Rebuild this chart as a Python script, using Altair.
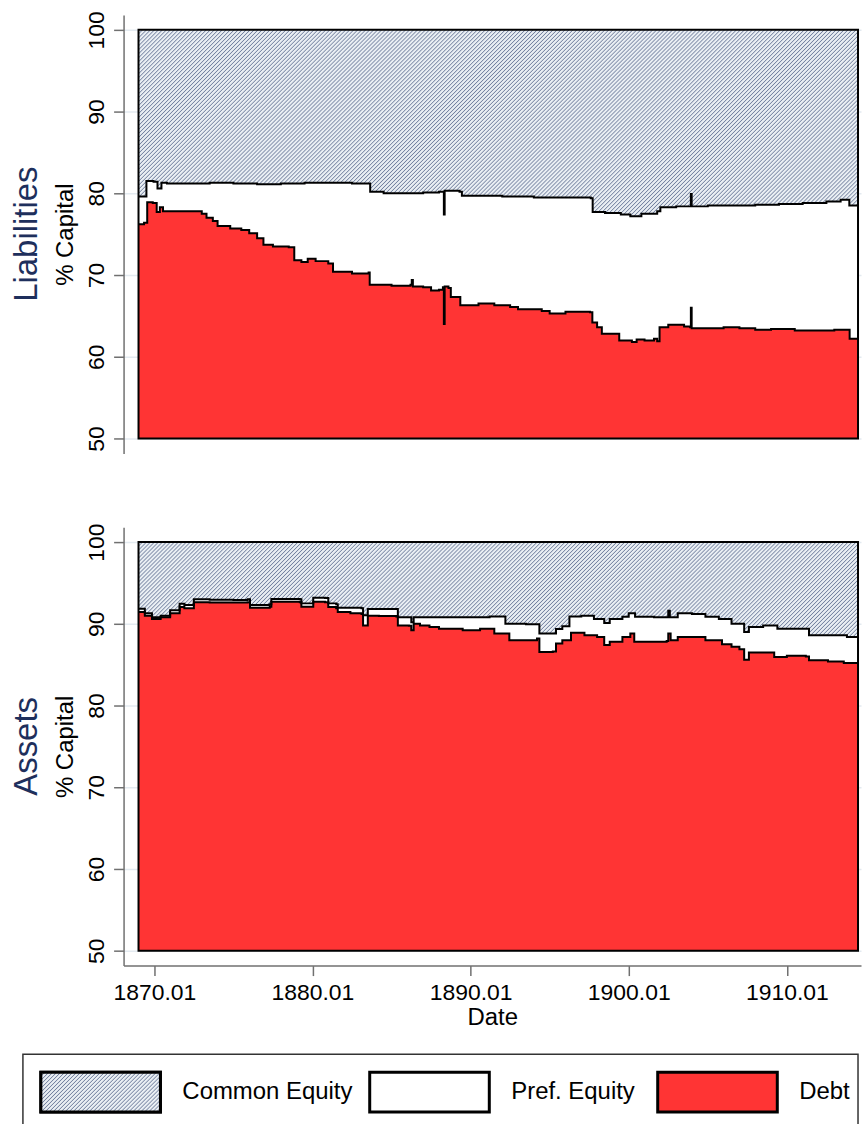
import altair as alt
import pandas as pd

FONT = "Liberation Sans"
RED = "#ff3434"
HATCH_BG = "#e9eef3"
HATCH_FG = "#7482a0"
NAVY = "#1e2f5c"
AXIS_GREY = "#707070"
GRID = "#e3eaf0"

# ---------------- data ----------------
# Liabilities: top of the Debt band
liab_debt_date = [1869.00, 1869.35, 1869.55, 1869.90, 1870.15, 1870.35, 1870.55, 1871.50, 1872.50,
                  1873.00, 1873.30, 1873.70, 1874.00, 1874.80, 1875.50, 1876.00, 1876.50, 1876.90,
                  1877.50, 1878.50, 1878.85, 1879.30, 1879.70, 1880.20, 1881.00, 1881.30, 1882.50,
                  1883.55, 1883.62, 1885.00, 1886.20, 1886.28, 1886.35, 1887.00, 1887.50, 1888.00,
                  1888.25, 1888.31, 1888.36, 1888.60, 1888.75, 1889.20, 1889.35, 1890.50, 1891.50,
                  1892.50, 1893.00, 1894.50, 1895.00, 1896.00, 1897.55, 1897.70, 1898.00, 1898.30,
                  1899.40, 1900.20, 1900.50, 1901.00, 1901.60, 1901.80, 1901.95, 1902.50, 1903.50,
                  1903.88, 1903.93, 1903.98, 1905.00, 1906.00, 1907.00, 1908.00, 1909.00, 1910.50,
                  1912.00, 1913.00, 1913.90, 1913.97, 1914.50]
liab_debt = [76.2, 76.4, 78.9, 78.8, 77.7, 78.3, 77.8, 77.8, 77.8,
             77.5, 77.0, 76.6, 76.0, 75.7, 75.5, 75.1, 74.5, 73.7,
             73.5, 73.4, 71.8, 71.6, 72.0, 71.7, 71.4, 70.4, 70.2,
             70.3, 68.8, 68.7, 68.8, 69.4, 68.6, 68.5, 68.1, 68.2,
             68.5, 64.0, 68.6, 68.4, 67.3, 67.3, 66.3, 66.5, 66.3,
             66.1, 65.8, 65.6, 65.3, 65.5, 65.45, 64.2, 63.6, 62.8,
             62.0, 61.8, 62.1, 62.0, 62.2, 61.9, 63.6, 63.9, 63.7,
             63.6, 66.0, 63.5, 63.5, 63.6, 63.5, 63.3, 63.4, 63.2,
             63.2, 63.3, 63.3, 62.2, 62.2]

# Liabilities: top of the Pref. Equity band (Debt + Pref. Equity)
liab_pref_date = [1869.00, 1869.40, 1869.50, 1869.95, 1870.20, 1870.45, 1870.80, 1872.00, 1873.50,
                  1875.00, 1876.50, 1878.00, 1879.50, 1881.00, 1882.50, 1883.55, 1883.65, 1884.50,
                  1886.00, 1887.00, 1888.00, 1888.28, 1888.31, 1888.36, 1888.90, 1889.30, 1889.45,
                  1890.50, 1892.00, 1894.00, 1896.00, 1897.60, 1897.72, 1898.50, 1899.50, 1900.10,
                  1900.80, 1901.80, 1902.00, 1903.00, 1903.88, 1903.93, 1903.98, 1905.00, 1906.50,
                  1908.00, 1909.50, 1911.00, 1912.50, 1913.40, 1913.85, 1913.95, 1914.50]
liab_pref = [79.6, 79.6, 81.5, 81.4, 80.6, 81.3, 81.2, 81.2, 81.3,
             81.2, 81.1, 81.2, 81.3, 81.3, 81.2, 81.2, 80.2, 80.0,
             80.0, 80.1, 80.2, 80.2, 77.4, 80.3, 80.3, 80.2, 79.7,
             79.7, 79.6, 79.5, 79.5, 79.4, 77.7, 77.6, 77.4, 77.2,
             77.5, 77.8, 78.3, 78.4, 78.4, 79.9, 78.4, 78.5, 78.5,
             78.6, 78.7, 78.8, 79.0, 79.2, 79.2, 78.5, 78.4]

# Assets: top of the Debt band
asset_debt_date = [1869.00, 1869.40, 1869.85, 1870.40, 1871.00, 1871.60, 1871.90, 1872.50, 1873.50,
                   1875.00, 1875.90, 1876.05, 1877.30, 1877.40, 1879.20, 1879.30, 1879.95, 1880.05,
                   1880.80, 1881.00, 1881.50, 1881.60, 1882.40, 1883.10, 1883.20, 1883.50, 1884.20,
                   1885.30, 1885.40, 1886.10, 1886.25, 1886.40, 1886.80, 1887.40, 1888.00, 1889.50,
                   1890.60, 1891.50, 1892.45, 1893.50, 1894.20, 1894.35, 1895.20, 1895.40, 1895.80,
                   1896.35, 1897.20, 1898.00, 1898.45, 1898.80, 1899.60, 1900.10, 1900.35, 1901.60,
                   1902.40, 1902.50, 1902.65, 1903.10, 1904.00, 1904.85, 1905.90, 1906.50, 1907.00,
                   1907.30, 1907.60, 1908.40, 1909.20, 1910.00, 1911.20, 1911.40, 1912.60, 1913.60,
                   1914.50]
asset_debt = [91.45, 91.0, 90.6, 90.8, 91.3, 92.05, 91.9, 92.65, 92.6,
              92.6, 92.65, 91.95, 92.1, 92.7, 92.65, 92.1, 92.1, 92.7,
              92.65, 92.05, 91.9, 91.45, 91.3, 91.2, 89.8, 91.0, 90.95,
              90.9, 89.8, 89.75, 89.2, 90.0, 89.8, 89.6, 89.4, 89.2,
              89.4, 88.8, 88.0, 88.0, 88.2, 86.56, 86.6, 87.6, 88.0,
              88.9, 88.6, 88.4, 87.4, 87.8, 88.4, 88.8, 87.8, 87.8,
              87.9, 88.8, 88.0, 88.4, 88.4, 88.0, 87.5, 87.2, 86.9,
              85.6, 86.5, 86.5, 85.95, 86.1, 86.0, 85.55, 85.4, 85.2,
              85.05]

# Assets: top of the Pref. Equity band (Debt + Pref. Equity)
asset_pref_date = [1869.00, 1869.40, 1869.85, 1870.40, 1871.00, 1871.60, 1871.90, 1872.50, 1873.50,
                   1875.00, 1875.90, 1876.05, 1877.30, 1877.40, 1879.20, 1879.30, 1879.95, 1880.05,
                   1880.80, 1881.00, 1881.50, 1881.60, 1882.40, 1883.10, 1883.20, 1883.50, 1885.30,
                   1885.40, 1886.10, 1886.25, 1886.40, 1887.40, 1888.50, 1890.00, 1891.20, 1892.20,
                   1893.50, 1894.25, 1894.35, 1895.20, 1895.40, 1895.80, 1896.25, 1897.00, 1897.80,
                   1898.45, 1898.80, 1899.60, 1900.00, 1900.40, 1901.60, 1902.40, 1902.50, 1902.60,
                   1903.10, 1904.00, 1904.85, 1905.70, 1906.50, 1907.30, 1907.60, 1908.50, 1909.40,
                   1911.30, 1911.40, 1912.80, 1913.80, 1914.50]
asset_pref = [91.85, 91.3, 90.8, 91.0, 91.65, 92.45, 92.3, 93.0, 92.95,
              92.9, 93.0, 92.3, 92.4, 93.05, 93.0, 92.5, 92.5, 93.2,
              93.15, 92.5, 92.4, 91.95, 91.95, 91.9, 91.05, 91.8, 91.8,
              90.8, 90.8, 90.2, 90.8, 90.8, 90.8, 90.8, 90.9, 90.0,
              89.95, 89.95, 88.8, 88.8, 89.35, 89.7, 90.9, 91.0, 90.6,
              90.1, 90.6, 90.85, 91.3, 90.85, 90.8, 90.8, 91.6, 90.8,
              91.3, 91.2, 90.85, 90.6, 90.0, 89.0, 89.6, 89.8, 89.4,
              89.4, 88.6, 88.6, 88.4, 88.45]

series_names = ["Common Equity", "Pref. Equity", "Debt"]
x_ticks = [1870, 1880, 1890, 1900, 1910]
y_ticks = [50, 60, 70, 80, 90, 100]
date_range = [1869.0, 1914.5]
share_range = [50, 100]

# ---------------- layout / style ----------------
X_DOMAIN = [1868.055, 1914.689]
Y_DOMAIN = [48.171, 101.829]
PANEL_W = 740
PANEL_H = 440
INTERP = "step-after"

# legend box layout, in pixels inside the legend frame
LEG_W, LEG_H = 838, 79
LEG_SHIFT = -101                  # frame starts left of the plot origin
LEG_SW_X0 = [18, 348, 637]
LEG_SW_W = 120
LEG_SW_Y0, LEG_SW_Y1 = 18, 58
LEG_LABEL_X = [160, 490, 779]


def hatch(w, h, period=4):
    """Diagonal (/) hatch as a linear gradient; one stripe every `period` px along a row."""
    r = h / w
    a = (1 + r) / (1 + r * r)
    b = r * a
    n = max(1, round((w + h) / period))
    stops = []
    for i in range(n):
        stops += [
            {"offset": i / n, "color": HATCH_FG},
            {"offset": (i + 0.28) / n, "color": HATCH_BG},
            {"offset": (i + 0.72) / n, "color": HATCH_BG},
            {"offset": (i + 1) / n, "color": HATCH_FG},
        ]
    return {"gradient": "linear", "x1": 0, "y1": 0, "x2": a, "y2": b, "stops": stops}


MAIN_HATCH = hatch(722, 410)
LEG_HATCH = hatch(LEG_SW_W, LEG_SW_Y1 - LEG_SW_Y0)

box_df = pd.DataFrame({"x0": [date_range[0]], "x1": [date_range[1]],
                       "lo": [share_range[0]], "hi": [share_range[1]]})


def xenc(field, show_axis):
    if show_axis:
        axis = alt.Axis(values=x_ticks, labelExpr="format(datum.value, 'd') + '.01'",
                        title="Date", grid=False, domainColor=AXIS_GREY, domainWidth=1.5,
                        tickColor=AXIS_GREY, tickWidth=1.5, tickSize=10,
                        labelFont=FONT, labelFontSize=23, labelColor="black", labelPadding=6,
                        titleFont=FONT, titleFontSize=24, titleFontWeight="normal",
                        titleColor="black", titlePadding=1)
    else:
        axis = None
    return alt.X(field, type="quantitative", scale=alt.Scale(domain=X_DOMAIN, nice=False, zero=False),
                 axis=axis, title="Date")


def yenc(field):
    return alt.Y(field, type="quantitative",
                 scale=alt.Scale(domain=Y_DOMAIN, nice=False, zero=False),
                 title="% Capital",
                 axis=alt.Axis(values=y_ticks, grid=True, gridColor=GRID, gridWidth=1.5,
                               domainColor=AXIS_GREY, domainWidth=1.5,
                               tickColor=AXIS_GREY, tickWidth=1.5, tickSize=10,
                               labelFont=FONT, labelFontSize=23, labelColor="black",
                               labelAngle=270, labelAlign="center", labelBaseline="bottom",
                               labelPadding=5,
                               titleFont=FONT, titleFontSize=24, titleFontWeight="normal",
                               titleColor="black", titlePadding=8))


def panel(debt_date, debt, pref_date, pref, name, bottom):
    debt_df = pd.DataFrame({"date": debt_date, "val": debt})
    pref_df = pd.DataFrame({"date": pref_date, "val": pref})

    hatch_layer = alt.Chart(box_df).mark_rect(fill=MAIN_HATCH).encode(
        x=xenc("x0", bottom), x2="x1", y=yenc("lo"), y2="hi")
    pref_area = alt.Chart(pref_df).mark_area(fill="white", interpolate=INTERP).encode(
        x=xenc("date", bottom), y=yenc("val"), y2=alt.datum(50))
    debt_area = alt.Chart(debt_df).mark_area(fill=RED, interpolate=INTERP).encode(
        x=xenc("date", bottom), y=yenc("val"), y2=alt.datum(50))
    pref_line = alt.Chart(pref_df).mark_line(color="black", strokeWidth=2, interpolate=INTERP).encode(
        x=xenc("date", bottom), y=yenc("val"))
    debt_line = alt.Chart(debt_df).mark_line(color="black", strokeWidth=2, interpolate=INTERP).encode(
        x=xenc("date", bottom), y=yenc("val"))
    border = alt.Chart(box_df).mark_rect(fillOpacity=0, stroke="black", strokeWidth=2).encode(
        x=xenc("x0", bottom), x2="x1", y=yenc("lo"), y2="hi")

    return alt.layer(hatch_layer, pref_area, debt_area, pref_line, debt_line, border).properties(
        width=PANEL_W, height=PANEL_H,
        title=alt.TitleParams(name, orient="left", anchor="middle", font=FONT, fontSize=33,
                              fontWeight="normal", color=NAVY, offset=10),
    )


def legend_panel():
    leg_df = pd.DataFrame({
        "name": series_names,
        "fill": [HATCH_BG, "white", RED],
        "x0": LEG_SW_X0,
        "x1": [v + LEG_SW_W for v in LEG_SW_X0],
        "y0": [LEG_SW_Y0] * 3,
        "y1": [LEG_SW_Y1] * 3,
        "lx": LEG_LABEL_X,
        "ly": [(LEG_SW_Y0 + LEG_SW_Y1) / 2] * 3,
    })
    frame_df = pd.DataFrame({"x0": [0], "x1": [LEG_W], "y0": [0], "y1": [LEG_H]})
    xs = alt.Scale(domain=[0, LEG_W], range=[LEG_SHIFT, LEG_SHIFT + LEG_W], nice=False, zero=False)
    ys = alt.Scale(domain=[0, LEG_H], range=[0, LEG_H], nice=False, zero=False)

    def lx(f):
        return alt.X(f, type="quantitative", scale=xs, axis=None)

    def ly(f):
        return alt.Y(f, type="quantitative", scale=ys, axis=None)

    frame = alt.Chart(frame_df).mark_rect(fill="white", stroke="#333333", strokeWidth=1.5).encode(
        x=lx("x0"), x2="x1", y=ly("y0"), y2="y1")
    swatches = alt.Chart(leg_df).mark_rect(stroke="black", strokeWidth=3).encode(
        x=lx("x0"), x2="x1", y=ly("y0"), y2="y1", fill=alt.Fill("fill:N", scale=None))
    hatch_sw = alt.Chart(leg_df).transform_filter(
        alt.datum.name == series_names[0]).mark_rect(fill=LEG_HATCH, stroke="black", strokeWidth=3).encode(
        x=lx("x0"), x2="x1", y=ly("y0"), y2="y1")
    labels = alt.Chart(leg_df).mark_text(align="left", baseline="middle", font=FONT, fontSize=24,
                                         color="black").encode(
        x=lx("lx"), y=ly("ly"), text="name:N")
    return alt.layer(frame, swatches, hatch_sw, labels).properties(width=PANEL_W, height=LEG_H)


top = panel(liab_debt_date, liab_debt, liab_pref_date, liab_pref, "Liabilities", False)
bottom = panel(asset_debt_date, asset_debt, asset_pref_date, asset_pref, "Assets", True)

chart = (
    alt.vconcat(alt.vconcat(top, bottom, spacing=69), legend_panel(), spacing=24)
    .properties(padding={"left": 10, "top": 8, "right": 0, "bottom": 0}, background="white")
    .configure_view(strokeWidth=0)
)

chart.save("out.html", embed_options={"renderer": "svg", "actions": False})
